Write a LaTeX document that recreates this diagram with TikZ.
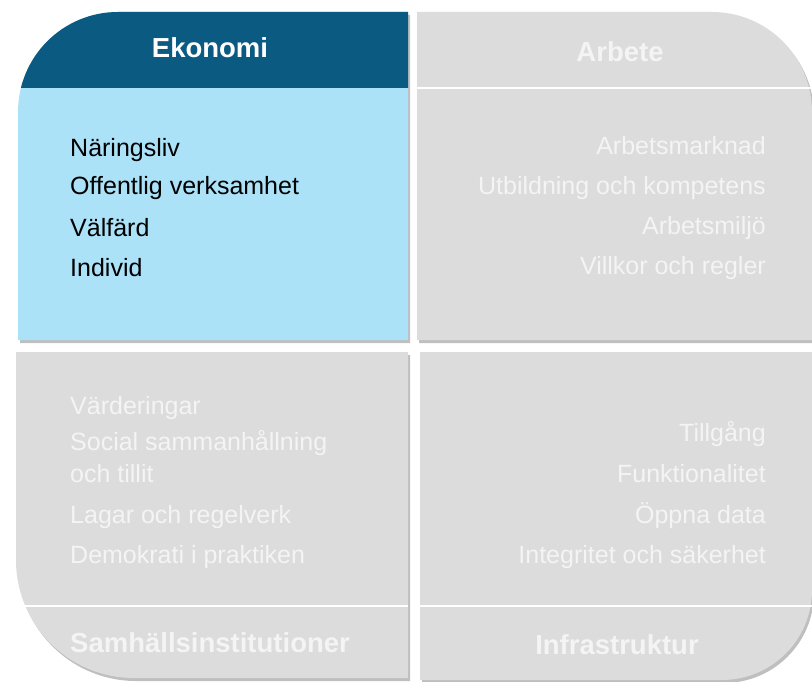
\documentclass[tikz,border=0pt]{standalone}
\usepackage{fontspec}
\setmainfont{Liberation Sans}
\usetikzlibrary{shadows}

\definecolor{morkbla}{HTML}{0B5A82}
\definecolor{ljusbla}{HTML}{ACE2F8}
\definecolor{ljusgra}{HTML}{DCDCDC}
\definecolor{blektext}{HTML}{F4F4F4}

\begin{document}
\begin{tikzpicture}[x=1pt,y=-1pt] %% tikz
	\tikzstyle{ruta}=[drop shadow={opacity=0.5,shadow xshift=2pt,shadow yshift=-3pt}];
	\tikzstyle{rubrik}=[font=\fontsize{27.5}{31}\selectfont\bfseries,inner sep=0pt];
	\tikzstyle{punkt}=[font=\fontsize{25}{29}\selectfont,inner sep=0pt];
	\useasboundingbox[fill=white] (0,0) rectangle (812,682);
	%% boxes
	\fill[ljusbla,ruta] (18,340) [rounded corners=100pt] -- (18,12) [sharp corners] -- (408,12) -- (408,340) -- cycle;
	\begin{scope}
		\clip (18,340) [rounded corners=100pt] -- (18,12) [sharp corners] -- (408,12) -- (408,340) -- cycle;
		\fill[morkbla] (0,0) rectangle (420,88);
	\end{scope}
	\fill[ljusgra,ruta] (417,340) -- (417,12) [rounded corners=100pt] -- (812,12) [sharp corners] -- (812,340) -- cycle;
	\fill[ljusgra,ruta] (16,352) -- (408,352) -- (408,678) [rounded corners=118pt] -- (16,678) [sharp corners] -- (16,352) -- cycle;
	\fill[ljusgra,ruta] (420,352) -- (812,352) [rounded corners=90pt] -- (812,680) [sharp corners] -- (420,680) -- cycle;
	%% separators
	\draw[white,line width=1.2pt] (417,88) -- (812,88);
	\draw[white,line width=1.2pt] (16,606) -- (408,606);
	\draw[white,line width=1.2pt] (420,606) -- (812,606);
	%% headers
	\node[rubrik,white] (ekonomi) at (210,48) {Ekonomi};
	\node[rubrik,blektext] (arbete) at (620,52) {Arbete};
	\node[rubrik,blektext,anchor=west] (samhall) at (70,643) {Samhällsinstitutioner};
	\node[rubrik,blektext] (infra) at (617,645) {Infrastruktur};
	%% items
	\node[punkt,anchor=west] (naring) at (70,150) {Näringsliv};
	\node[punkt,anchor=west] (offentlig) at (70,188) {Offentlig verksamhet};
	\node[punkt,anchor=west] (valfard) at (70,228) {Välfärd};
	\node[punkt,anchor=west] (individ) at (70,268) {Individ};
	\node[punkt,blektext,anchor=east] (marknad) at (766,146) {Arbetsmarknad};
	\node[punkt,blektext,anchor=east] (utbildning) at (766,188) {Utbildning och kompetens};
	\node[punkt,blektext,anchor=east] (miljo) at (766,228) {Arbetsmiljö};
	\node[punkt,blektext,anchor=east] (villkor) at (766,268) {Villkor och regler};
	\node[punkt,blektext,anchor=west] (varden) at (70,408) {Värderingar};
	\node[punkt,blektext,anchor=west] (social) at (70,443) {Social sammanhållning};
	\node[punkt,blektext,anchor=west] (tillit) at (70,474) {och tillit};
	\node[punkt,blektext,anchor=west] (lagar) at (70,517) {Lagar och regelverk};
	\node[punkt,blektext,anchor=west] (demokrati) at (70,557) {Demokrati i praktiken};
	\node[punkt,blektext,anchor=east] (tillgang) at (766,434) {Tillgång};
	\node[punkt,blektext,anchor=east] (funktion) at (766,474) {Funktionalitet};
	\node[punkt,blektext,anchor=east] (oppna) at (766,516) {Öppna data};
	\node[punkt,blektext,anchor=east] (integritet) at (766,557) {Integritet och säkerhet};
\end{tikzpicture}
\end{document}
